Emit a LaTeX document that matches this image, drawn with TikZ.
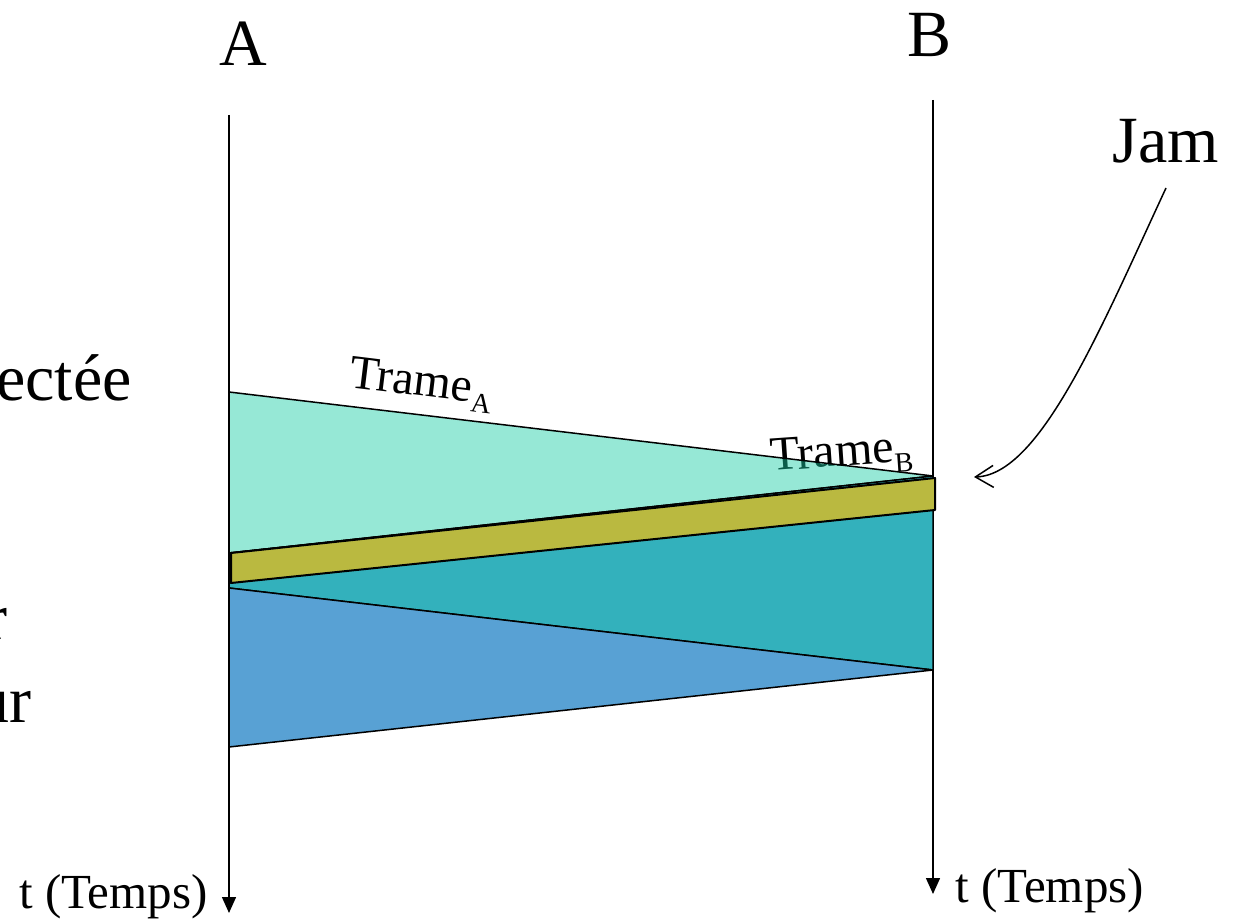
\documentclass[tikz,border=0pt]{standalone}
\usepackage{fontspec}
\setmainfont{Liberation Serif}
\usetikzlibrary{arrows.meta}
\definecolor{lgreen}{RGB}{22,204,164}
\definecolor{tealB}{RGB}{51,177,188}
\definecolor{blueB}{RGB}{88,161,212}
\definecolor{jamcol}{RGB}{186,185,64}
\tikzset{
  big/.style={inner sep=0pt, font=\fontsize{33}{38}\selectfont},
  mid/.style={inner sep=0pt, font=\fontsize{24}{28}\selectfont},
  timeline/.style={line width=0.75pt, -{Triangle[length=8pt,width=7pt]}},
  region/.style={draw=black, line width=0.75pt, line join=round},
}
\newcommand{\sub}[1]{\raisebox{-0.45ex}{\fontsize{14}{14}\selectfont #1}}
\begin{document}
\begin{tikzpicture}[x=0.5pt,y=-0.5pt]
\useasboundingbox (0,0) rectangle (1233,919);
\clip (0,0) rectangle (1233,919);

% station labels
\node[big, anchor=base] (labA) at (243,66) {A};
\node[big, anchor=base] (labB) at (930,57) {B};
\node[big, anchor=base] (jam) at (1166,163) {Jam};

% cut-off left texts
\node[big, anchor=base east] (t1) at (132,401) {ectée};
\node[big, anchor=base east] (t2) at (8,640) {r};
\node[big, anchor=base east] (t3) at (32,723) {ur};

% time lines
\coordinate (Atop) at (229,115);
\coordinate (Abot) at (229,913);
\coordinate (Btop) at (933,100);
\coordinate (Bbot) at (933,894);
\draw[timeline] (Atop) -- (Abot);
\draw[timeline] (Btop) -- (Bbot);
\node[mid, font=\fontsize{24.5}{28}\selectfont, anchor=base east] (tA) at (208,908) {t (Temps)};
\node[mid, font=\fontsize{24.5}{28}\selectfont, anchor=base west] (tB) at (955,902) {t (Temps)};

% Trame B label (partly under the translucent frame A)
\node[mid, anchor=base west, rotate=4] (trB) at (771,471) {Trame\sub{B}};

% frame A
\coordinate (a1) at (229,392);
\coordinate (a2) at (933,476);
\coordinate (a3) at (229,553);
\fill[lgreen, fill opacity=0.45] (a1) -- (a2) -- (a3) -- cycle;
\draw[region] (a1) -- (a2) -- (a3) -- cycle;

% frame B
\coordinate (b1) at (933,670);
\coordinate (b2) at (229,588);
\draw[region, fill=tealB] (a3) -- (a2) -- (b1) -- (b2) -- cycle;

% frame A second part
\coordinate (c1) at (229,747);
\draw[region, fill=blueB] (b2) -- (b1) -- (c1) -- cycle;

% jam band
\coordinate (j1) at (231,553);
\coordinate (j2) at (935,478);
\coordinate (j3) at (935,510);
\coordinate (j4) at (231,583);
\draw[region, fill=jamcol, line width=1pt] (j1) -- (j2) -- (j3) -- (j4) -- cycle;

\node[mid, anchor=base west, rotate=-7] (trA) at (348,387) {Trame\sub{A}};

% jam pointer
\coordinate (jp) at (1166,188);
\coordinate (jt) at (974,477);
\draw[line width=0.75pt, -{Straight Barb[length=9pt,width=11pt]}]
  (jp) .. controls (1100,330) and (1040,475) .. (jt);
\end{tikzpicture}
\end{document}
